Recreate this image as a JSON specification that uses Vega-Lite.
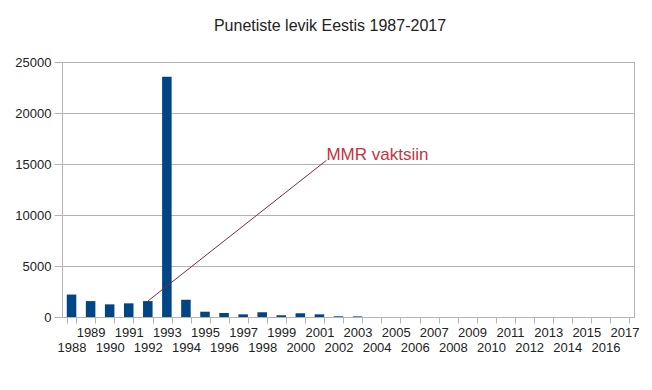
{
  "$schema": "https://vega.github.io/schema/vega-lite/v6.json",
  "autosize": "none",
  "width": 572,
  "height": 255,
  "padding": {"left": 62, "top": 62, "right": 18, "bottom": 73},
  "background": "white",
  "title": {
    "text": "Punetiste levik Eestis 1987-2017",
    "font": "Liberation Sans",
    "fontSize": 16,
    "fontWeight": "normal",
    "color": "#222222",
    "anchor": "middle",
    "dx": -18,
    "offset": 22
  },
  "config": {
    "view": {"stroke": "#b3b3b3", "strokeWidth": 1},
    "axis": {"labelFont": "Liberation Sans", "labelFontSize": 13, "labelColor": "#222222"}
  },
  "datasets": {
    "cases": [
      {"year": 1988, "cases": 2200},
      {"year": 1989, "cases": 1560},
      {"year": 1990, "cases": 1240},
      {"year": 1991, "cases": 1340},
      {"year": 1992, "cases": 1560},
      {"year": 1993, "cases": 23550},
      {"year": 1994, "cases": 1690},
      {"year": 1995, "cases": 520},
      {"year": 1996, "cases": 390},
      {"year": 1997, "cases": 260},
      {"year": 1998, "cases": 460},
      {"year": 1999, "cases": 170},
      {"year": 2000, "cases": 360},
      {"year": 2001, "cases": 260},
      {"year": 2002, "cases": 70},
      {"year": 2003, "cases": 60},
      {"year": 2004, "cases": 0},
      {"year": 2005, "cases": 0},
      {"year": 2006, "cases": 0},
      {"year": 2007, "cases": 0},
      {"year": 2008, "cases": 0},
      {"year": 2009, "cases": 0},
      {"year": 2010, "cases": 0},
      {"year": 2011, "cases": 0},
      {"year": 2012, "cases": 0},
      {"year": 2013, "cases": 0},
      {"year": 2014, "cases": 0},
      {"year": 2015, "cases": 0},
      {"year": 2016, "cases": 0},
      {"year": 2017, "cases": 0}
    ],
    "note": [
      {"x1": 1992, "y1": 1560, "x2": 2001.37, "y2": 15360, "label": "MMR vaktsiin"}
    ]
  },
  "layer": [
    {
      "data": {"name": "cases"},
      "mark": {"type": "bar", "color": "#004586"},
      "encoding": {
        "x": {
          "field": "year",
          "type": "ordinal",
          "scale": {"paddingInner": 0.5, "paddingOuter": 0.25},
          "axis": {
            "title": null,
            "labelAngle": 0,
            "labelOverlap": false,
            "labelExpr": "datum.value % 2 == 1 ? datum.label : [' ', datum.label]",
            "labelLineHeight": 15.5,
            "labelBaseline": "top",
            "labelPadding": 3,
            "tickBand": "extent",
            "tickSize": 6,
            "tickColor": "#b3b3b3",
            "domainColor": "#b3b3b3",
            "grid": false
          }
        },
        "y": {
          "field": "cases",
          "type": "quantitative",
          "scale": {"domain": [0, 25000], "nice": false},
          "axis": {
            "title": null,
            "values": [0, 5000, 10000, 15000, 20000, 25000],
            "tickSize": 8,
            "tickColor": "#b3b3b3",
            "domainColor": "#b3b3b3",
            "gridColor": "#b3b3b3",
            "labelPadding": 3,
            "format": "d"
          }
        }
      }
    },
    {
      "data": {"name": "note"},
      "mark": {"type": "rule", "color": "#7b2d3a", "strokeWidth": 1},
      "encoding": {
        "x": {"field": "x1", "type": "quantitative", "scale": {"domain": [1987.5, 2017.5], "nice": false, "zero": false}, "axis": null},
        "x2": {"field": "x2"},
        "y": {"field": "y1", "type": "quantitative"},
        "y2": {"field": "y2"}
      }
    },
    {
      "data": {"name": "note"},
      "mark": {"type": "text", "color": "#c9303e", "font": "Liberation Sans", "fontSize": 17, "align": "left", "baseline": "alphabetic"},
      "encoding": {
        "x": {"field": "x2", "type": "quantitative", "scale": {"domain": [1987.5, 2017.5], "nice": false, "zero": false}, "axis": null},
        "y": {"field": "y2", "type": "quantitative"},
        "text": {"field": "label"}
      }
    }
  ],
  "resolve": {"scale": {"x": "independent"}}
}
